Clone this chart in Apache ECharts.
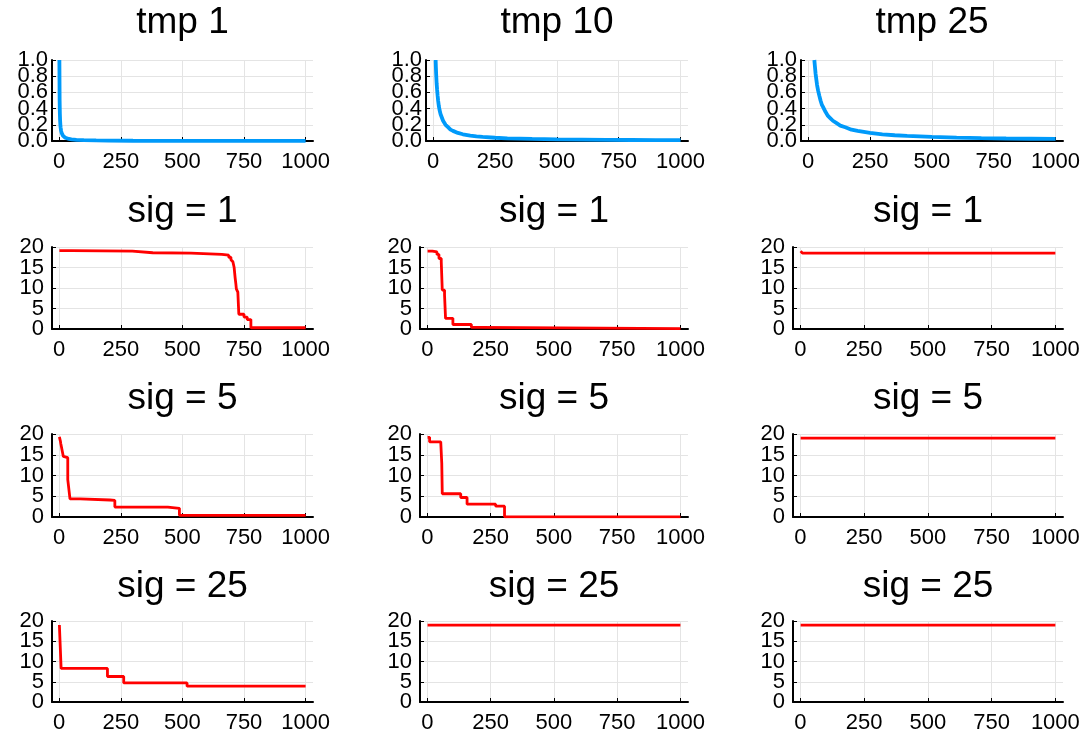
<!DOCTYPE html>
<html><head><meta charset="utf-8">
<script src="https://cdn.jsdelivr.net/npm/echarts@6/dist/echarts.min.js"></script>
<style>html,body{margin:0;padding:0;background:#fff}#c{width:1085px;height:734px}</style>
</head><body><div id="c"></div>
<script>
// ---------- data ----------
const xTicks = [0, 250, 500, 750, 1000];
// y tick labels, split over two stacked label layers so ECharts keeps all of them
const yTicksTopA = [0, 0.4, 0.8];
const yTicksTopB = [0.2, 0.6, 1.0];
const yTicksRedA = [0, 10, 20];
const yTicksRedB = [5, 15];
const topTitles = ['tmp 1', 'tmp 10', 'tmp 25'];
const rowTitles = ['sig = 1', 'sig = 5', 'sig = 25'];

// row 1 (blue curves)
const tmp1X = [1,2,3,4,5,6,8,10,13,16,20,25,30,40,50,70,100,150,200,300,400,500,600,700,800,900,1000];
const tmp1Y = [1.0,0.5,0.333,0.25,0.2,0.167,0.125,0.1,0.077,0.063,0.05,0.04,0.033,0.025,0.02,0.014,0.01,0.0067,0.005,0.0033,0.0025,0.002,0.0017,0.0014,0.0013,0.0011,0.001];
const tmp10X = [10,11,12,14,16,18,20,23,26,30,35,40,50,60,70,80,100,120,150,175,200,250,300,400,500,600,700,800,900,1000];
const tmp10Y = [1.0,0.91,0.83,0.71,0.63,0.56,0.5,0.43,0.38,0.33,0.29,0.25,0.2,0.17,0.14,0.125,0.1,0.083,0.067,0.057,0.05,0.04,0.033,0.025,0.02,0.017,0.014,0.0125,0.011,0.01];
const tmp25X = [25,27,30,33,36,40,45,50,55,60,70,80,90,100,115,130,150,175,200,250,300,350,400,500,600,700,800,900,1000];
const tmp25Y = [1.0,0.93,0.83,0.76,0.69,0.625,0.56,0.5,0.45,0.42,0.36,0.31,0.28,0.25,0.22,0.19,0.17,0.14,0.125,0.1,0.083,0.071,0.063,0.05,0.042,0.036,0.031,0.028,0.025];

// sig = 1 (red step curves)
const s1t1X = [1,50,297,380,535,660,688,697,705,710,714,717,719,725,729,750,763,778,1000];
const s1t1Y = [19.1,19.0,18.6,18.5,18.2,18.0,17.5,16.9,16.4,15.0,12.5,11.0,9.8,9.0,3.6,2.9,2.3,0.3,0.25];
const s1t10X = [1,20,38,46,55,59,68,72,101,174,213,1000];
const s1t10Y = [19.0,18.8,18.2,17.2,16.4,9.5,8.3,2.6,1.1,0.4,0.1,0.05];
const s1t25X = [1,8,1000];
const s1t25Y = [19.0,18.5,18.5];

// sig = 5
const s5t1X = [1,3,5,7,9,11,13,15,17,20,35,42,44,85,206,226,441,488,1000];
const s5t1Y = [19.3,19.0,18.3,17.6,17.0,16.4,15.8,15.2,14.6,14.3,9.0,8.9,4.35,4.1,4.0,2.4,2.1,0.4,0.4];
const s5t10X = [1,9,53,57,59,132,157,270,305,1000];
const s5t10Y = [19.2,18.1,18.1,13.0,5.6,4.7,3.1,2.6,0.05,0.05];
const s5t25X = [1,1000];
const s5t25Y = [19.0,19.0];

// sig = 25
const s25t1X = [1,8,196,262,519,1000];
const s25t1Y = [19.0,8.3,6.3,4.7,3.9,3.9];
const s25t10X = [1,1000];
const s25t10Y = [19.0,19.0];
const s25t25X = [1,1000];
const s25t25Y = [19.0,19.0];

// ---------- layout ----------
const FONT = '"Liberation Sans", Arial, Helvetica, sans-serif';
const rowsY = [[60,81],[247,82],[434,83],[621,82]];
const colsX = [
  [[52,261],[426,262],[801,262]],
  [[52,261],[420,268],[793,270]],
  [[52,261],[420,268],[793,270]],
  [[52,261],[420,268],[793,270]]
];
const titleY = [23, 212, 399, 587];

const panels = [
  [[tmp1X,tmp1Y],[tmp10X,tmp10Y],[tmp25X,tmp25Y]],
  [[s1t1X,s1t1Y],[s1t10X,s1t10Y],[s1t25X,s1t25Y]],
  [[s5t1X,s5t1Y],[s5t10X,s5t10Y],[s5t25X,s5t25Y]],
  [[s25t1X,s25t1Y],[s25t10X,s25t10Y],[s25t25X,s25t25Y]]
];

const grid = [], xAxis = [], yAxis = [], series = [], graphic = [];
const zip = (xs, ys) => xs.map((x, i) => [x, ys[i]]);
const axisLineStyle = {color:'#000', width:2};
const gridLineStyle = {color:'#e4e4e4', width:1};

for (let r = 0; r < 4; r++) {
  for (let c = 0; c < 3; c++) {
    const gi = grid.length;
    const [L, W] = colsX[r][c];
    const [T, H] = rowsY[r];
    grid.push({left:L, top:T, width:W, height:H});
    xAxis.push({
      gridIndex:gi, type:'value', min:-28.97, max:1029.97,
      axisLine:{show:true, onZero:false, lineStyle:axisLineStyle},
      axisTick:{show:true, inside:true, length:4, customValues:xTicks, lineStyle:{color:'#000', width:1}},
      axisLabel:{customValues:xTicks, fontSize:22, fontFamily:FONT, color:'#000', margin:10,
        hideOverlap:false, formatter: v => String(v)},
      splitLine:{show:true, lineStyle:gridLineStyle}
    });
    const isTop = r === 0;
    const fmt = isTop ? (v => v.toFixed(1)) : (v => String(v));
    const yMax = isTop ? 1 : 20, yInt = isTop ? 0.2 : 5;
    const labelBase = {fontSize:22, fontFamily:FONT, color:'#000', margin:isTop ? 4 : 8,
      hideOverlap:false, formatter:fmt};
    // main y axis: line, ticks, grid lines, half of the labels
    yAxis.push({
      gridIndex:gi, type:'value', position:'left', offset:0, min:0, max:yMax, interval:yInt,
      axisLine:{show:true, onZero:false, lineStyle:axisLineStyle},
      axisTick:{show:true, inside:true, length:4, lineStyle:{color:'#000', width:1}},
      axisLabel:Object.assign({customValues: isTop ? yTicksTopA : yTicksRedA}, labelBase),
      splitLine:{show:true, lineStyle:gridLineStyle}
    });
    // companion y axis at the same place: the other half of the labels
    yAxis.push({
      gridIndex:gi, type:'value', position:'left', offset:0, min:0, max:yMax, interval:yInt,
      axisLine:{show:false}, axisTick:{show:false}, splitLine:{show:false},
      axisLabel:Object.assign({customValues: isTop ? yTicksTopB : yTicksRedB}, labelBase)
    });
    const [xs, ys] = panels[r][c];
    series.push({
      type:'line', xAxisIndex:gi, yAxisIndex:2*gi, data:zip(xs, ys),
      showSymbol:false, symbol:'none', clip:true,
      step: isTop ? false : 'end',
      lineStyle:{color: isTop ? '#009AFA' : '#FF0000', width: isTop ? 3.8 : 2.8},
      itemStyle:{color: isTop ? '#009AFA' : '#FF0000'}
    });
    graphic.push({
      type:'text', x: L + W/2, y: titleY[r],
      style:{text: isTop ? topTitles[c] : rowTitles[r-1], font:'37px ' + FONT, fill:'#000',
        textAlign:'center', textVerticalAlign:'middle'}
    });
  }
}

const chart = echarts.init(document.getElementById('c'), null, {renderer:'canvas'});
chart.setOption({
  backgroundColor:'#fff', animation:false,
  grid, xAxis, yAxis, series, graphic
});
</script></body></html>
